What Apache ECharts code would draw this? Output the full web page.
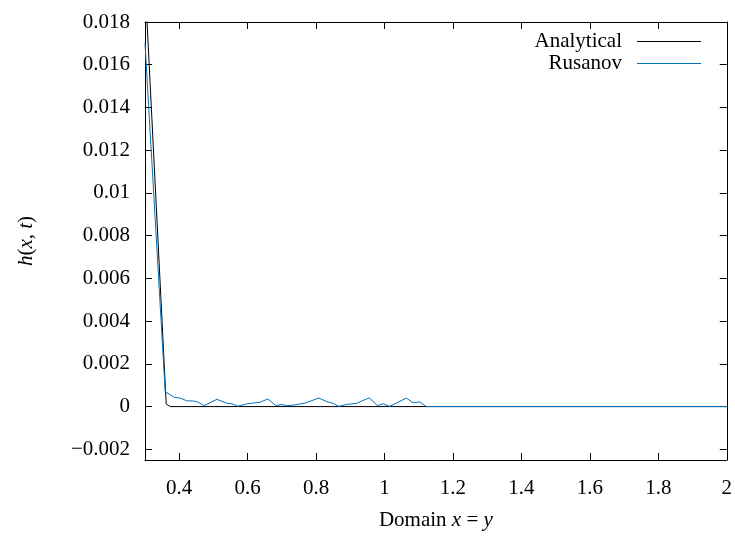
<!DOCTYPE html>
<html>
<head>
<meta charset="utf-8">
<script src="https://cdn.jsdelivr.net/npm/echarts@6/dist/echarts.min.js"></script>
<style>
  html, body { margin: 0; padding: 0; background: #fff; }
  #chart { width: 735px; height: 536px; }
</style>
</head>
<body>
<div id="chart"></div>
<script>
// Water depth profile h(x,t) along the diagonal x = y
const analyticalX = [0.3, 0.362, 0.374, 2.0];
const analyticalH = [0.0199, 0.00012, 0.0, 0.0];

const rusanovX = [0.300, 0.359, 0.386, 0.403, 0.422, 0.442, 0.456, 0.473, 0.510, 0.539,
                  0.554, 0.571, 0.597, 0.622, 0.636, 0.659, 0.683, 0.700, 0.714, 0.738,
                  0.767, 0.808, 0.830, 0.850, 0.867, 0.889, 0.918, 0.955, 0.979, 0.996,
                  1.015, 1.039, 1.064, 1.083, 1.103, 1.122, 2.000];
const rusanovH = [0.0170, 0.00070, 0.00043, 0.00040, 0.00027, 0.00026, 0.00020, 0.00004, 0.00034, 0.00016,
                  0.00013, 0.00002, 0.00012, 0.00018, 0.00020, 0.00036, 0.00004, 0.00010, 0.00004, 0.00008,
                  0.00016, 0.00040, 0.00024, 0.00015, 0.00001, 0.00010, 0.00015, 0.00041, 0.00005, 0.00013,
                  0.00001, 0.00020, 0.00040, 0.00018, 0.00022, 0.00000, 0.00000];

const xTicks = [0.4, 0.6, 0.8, 1.0, 1.2, 1.4, 1.6, 1.8, 2.0];
const yTicks = [-0.002, 0, 0.002, 0.004, 0.006, 0.008, 0.01, 0.012, 0.014, 0.016, 0.018];

const FONT = 'Liberation Serif';
const pair = (xs, ys) => xs.map((x, i) => [x, ys[i]]);
const fmt = v => {
  const s = String(parseFloat(v.toFixed(6)));
  return s.replace('-', '\u2212');
};

const frameLine = { show: true, onZero: false, lineStyle: { color: '#000', width: 1 } };
const inTick = { show: true, inside: true, length: 7, lineStyle: { color: '#000', width: 1 } };

const legendBase = {
  right: 29, align: 'right', orient: 'vertical', icon: 'rect',
  itemWidth: 64, itemHeight: 1,
  textStyle: { fontFamily: FONT, fontSize: 21, color: '#000', padding: [0, 10, 0, 0] }
};

const chart = echarts.init(document.getElementById('chart'));
chart.setOption({
  animation: false,
  backgroundColor: '#fff',
  textStyle: { fontFamily: FONT },
  grid: { left: 145, right: 7, top: 22, bottom: 75 },
  legend: [
    Object.assign({ data: ['Analytical'], top: 26 }, legendBase),
    Object.assign({ data: ['Rusanov'], top: 48 }, legendBase)
  ],
  xAxis: [
    {
      type: 'value', position: 'bottom', min: 0.3, max: 2,
      axisLine: frameLine,
      axisTick: Object.assign({ customValues: xTicks }, inTick),
      axisLabel: { customValues: xTicks, formatter: fmt, fontFamily: FONT, fontSize: 21, color: '#000', margin: 18 },
      splitLine: { show: false },
      name: '{t|Domain }{i|x}{t| = }{i|y}',
      nameLocation: 'middle', nameGap: 50,
      nameTextStyle: {
        rich: {
          t: { fontFamily: FONT, fontSize: 21, color: '#000' },
          i: { fontFamily: FONT, fontSize: 21, fontStyle: 'italic', color: '#000' }
        }
      }
    },
    {
      type: 'value', position: 'top', min: 0.3, max: 2,
      axisLine: frameLine,
      axisTick: Object.assign({ customValues: xTicks }, inTick),
      axisLabel: { show: false },
      splitLine: { show: false }
    }
  ],
  yAxis: [
    {
      type: 'value', position: 'left', min: -0.0025, max: 0.018,
      axisLine: frameLine,
      axisTick: Object.assign({ customValues: yTicks }, inTick),
      axisLabel: { customValues: yTicks, formatter: fmt, fontFamily: FONT, fontSize: 21, color: '#000', margin: 15 },
      splitLine: { show: false },
      name: '{i|h}{t|(}{i|x}{t|, }{i|t}{t|)}',
      nameLocation: 'middle', nameGap: 108, nameRotate: 90,
      nameTextStyle: {
        rich: {
          t: { fontFamily: FONT, fontSize: 21, color: '#000' },
          i: { fontFamily: FONT, fontSize: 21, fontStyle: 'italic', color: '#000' }
        }
      }
    },
    {
      type: 'value', position: 'right', min: -0.0025, max: 0.018,
      axisLine: frameLine,
      axisTick: Object.assign({ customValues: yTicks }, inTick),
      axisLabel: { show: false },
      splitLine: { show: false }
    }
  ],
  series: [
    {
      name: 'Analytical', type: 'line', xAxisIndex: 0, yAxisIndex: 0,
      data: pair(analyticalX, analyticalH),
      symbol: 'none', clip: true,
      lineStyle: { color: '#000', width: 1 }, itemStyle: { color: '#000' }
    },
    {
      name: 'Rusanov', type: 'line', xAxisIndex: 0, yAxisIndex: 0,
      data: pair(rusanovX, rusanovH),
      symbol: 'none', clip: true,
      lineStyle: { color: '#0072bd', width: 1 }, itemStyle: { color: '#0072bd' }
    }
  ]
});
</script>
</body>
</html>
